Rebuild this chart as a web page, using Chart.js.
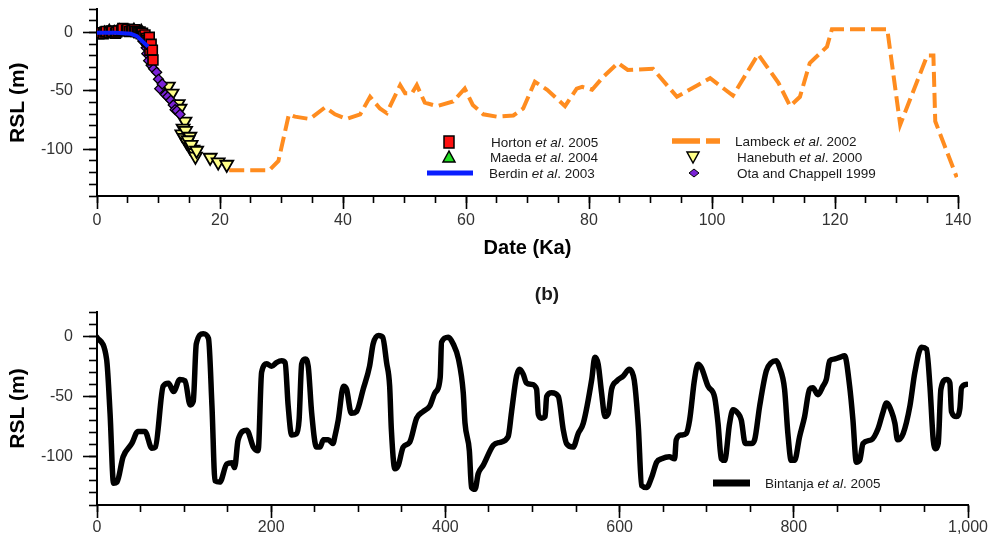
<!DOCTYPE html>
<html><head><meta charset="utf-8">
<script src="https://cdn.jsdelivr.net/npm/chart.js@4.4.1/dist/chart.umd.min.js"></script>
<style>
html,body{margin:0;padding:0;background:#fff;overflow:hidden;width:998px;height:538px;position:relative}
#ca{position:absolute;left:0;top:-30px}
#cb{position:absolute;left:0;top:270px}
</style></head><body>
<canvas id="ca" width="998" height="290"></canvas>
<canvas id="cb" width="998" height="268"></canvas>
<script>
// ---------- DATA ----------
// Panel (a): Date (ka) vs RSL (m)
const lambeckAge = [21.5,28,29.5,31.2,32.2,34.6,37.1,38.7,40.6,42.8,44.4,46,47.1,49.3,50.1,51.2,52,53.3,55.3,57.9,59.8,61.1,62.8,65,67.7,69.3,71.2,73.2,76.1,78,78.9,80.5,82.3,84.7,86.3,90.4,94.3,99.7,103.4,107.5,110.8,112.7,114.3,115.9,118.7,119.5,128.5,130.6,135,136,136.3,139.8];
const lambeckRSL = [-118,-118,-110,-70,-72,-74,-64,-70,-74,-70,-55,-65,-69,-45,-52,-52,-45,-60,-63,-59,-48,-62,-70,-72,-71,-65,-42,-49,-63,-48,-46.5,-49,-38,-26,-32,-31,-55,-39,-54,-18.5,-43,-63,-55,-26,-12,3,3,-79,-19.5,-19.5,-76,-124];

const hortonAge = [0.3,0.5,1,1.3,1.5,2,2.3,2.5,3,3.2,3.5,4,4.2,4.8,5,5.3,5.6,5.8,6.1,6.3,6.6,6.8,7,7.2,7.4,7.5,7.8,8,8.1,8.3,8.5,8.6,8.8,9,9.1];
const hortonRSL = [-1,0,-1,0.5,1,0,1.5,1,-0.5,0.5,1.5,2,3.5,2,3,1,1.5,2,2.5,1,1,0,0.5,-1,-0.5,-3,-2,-5,-6.6,-8,-4,-15,-10,-15,-23.5];

const maedaAge = [1.2,2,2.8,3.6,4.4,5.2,6,6.6,7.2,7.8];
const maedaRSL = [0.5,2,1,2.5,1,2,3,0.5,2,-3];

const berdinAge = [0,3,5.5,6.5,8.3];
const berdinRSL = [0,0,-1,-3,-12];

const otaAge = [7.6,8,8.1,8.4,8.8,9.2,9.7,10,10.2,10.6,11.1,11.5,12,12.4,12.7,13,13.5];
const otaRSL = [-8,-13,-18,-24,-28,-31,-34,-40,-48,-44,-53,-55,-58,-62,-66,-67,-70];

const hanebuthAge = [11.6,12.2,13.2,13.5,14.3,14,13.8,14.2,14.4,15.1,14.6,15.1,14.8,15.6,15.3,15.9,16,16.2,18.4,19.7,21.1];
const hanebuthRSL = [-46,-52,-61,-65,-76,-82,-87,-90,-84,-89,-94,-98,-92,-100,-96,-103,-106,-101,-107,-111,-113];

// Panel (b): Bintanja et al. 2005
const bintanjaAge = [0,11,15,19,23,30,40,47,55,63,67,76,82,88,95,101,107,110.5,114,122,128,132,135.5,141,149,155,158,162,172,179.5,185,189,195,200.5,206,212,216,219.5,223.5,229,232,235,239,242.5,246.5,252,256,260,265.5,271,273,277,283,286.5,292,298,305.6,313,317,323,328,332.5,336,338,342,346,351.5,359,367,374.5,382,388,394,395.6,403.3,409,415,420.5,422.5,427.5,430,434,437.7,443.5,455,462.7,472,476,481.7,485.3,489.4,493,499,504.7,506.7,510.5,514.4,516.3,522,529.6,535.4,539,546.7,552.5,558.3,568,571.6,575.4,579.3,583.2,587,590.8,596.6,604.3,611.2,615.8,617.7,621.5,625.3,631,636.8,642.6,648.3,657,663.2,665,670.8,676.5,680.4,686,690,693.8,701.5,709.2,713,716.8,720.6,726.3,730.2,735.9,739.7,744.3,751.2,755,760.8,768.4,774.2,779.9,783.7,789.4,793.2,797,800.9,806.6,812.4,818.1,821.9,827.7,833.5,837.3,841.2,846.8,852.6,858.3,864.1,867.9,871.8,875.6,879.5,889,896.8,902.6,906.4,912.2,916.1,919.1,925.6,933.3,939,946.7,952.4,956.3,960.1,962.8,965.8,968.9,975.3,979.2,981,986.8,990.7,992.5,998.3];
const bintanjaRSL = [-1,-19,-64,-122,-121,-100,-89,-79,-79,-93,-92,-41.5,-39,-46,-36,-37,-57,-54,-6.5,2,-2,-58,-120,-121,-106,-105,-109,-86,-78,-92,-95,-30,-23,-25,-22,-20.5,-22,-58,-82,-81,-69.5,-23,-19,-25,-64,-92,-92,-86,-86,-89,-83.5,-69.5,-41.5,-44,-64,-62.5,-44,-24.7,-6.5,0.5,-1,-22,-41.5,-78,-110,-107,-92,-88,-68,-62.5,-58,-47,-34.5,-5,-1,-6.5,-19,-47,-72,-95,-125.5,-127,-114,-107,-90.5,-88,-83.5,-62.5,-33,-27.5,-31.7,-38.7,-40,-44,-65,-68,-66.7,-50,-47,-50,-78,-89,-92,-80.7,-72.3,-36,-17.6,-23.3,-47,-66.7,-64,-44,-37.3,-33,-27.5,-33,-41.5,-75,-124,-125.5,-117,-104.5,-101.7,-100,-101.7,-86,-82,-80.7,-69.5,-36,-23.3,-26,-41.5,-51,-72.3,-101.7,-103,-72.3,-61,-64,-69.5,-89,-89,-86,-58,-29,-22,-20.5,-26,-44,-80.7,-103,-103,-83.5,-66.7,-44,-42.9,-48.5,-41.5,-36,-20.5,-19,-17.6,-16.3,-41.5,-69.5,-104.5,-103,-89,-86,-76.5,-62.5,-55.5,-62.5,-72.3,-86,-80.7,-58,-30,-9.2,-10.7,-41.5,-86,-93.3,-89,-44,-36,-38.7,-62.5,-66.7,-59.7,-42.9,-40];

// Tick labels
const topXTicks = [0,20,40,60,80,100,120,140];
const bottomXTicks = [0,200,400,600,800,1000];
const yTicks = [-100,-50,0];

// ---------- HELPERS ----------
Chart.defaults.font.family = "'Liberation Sans', Arial, sans-serif";
Chart.defaults.color = '#333';
const pts = (xs, ys) => xs.map((x, i) => ({x, y: ys[i]}));
const range = (a, b, s) => { const r = []; for (let v = a; v <= b + 1e-9; v += s) r.push({value: v}); return r; };

function makeScales(cfg) {
  return {
    x: {
      type: 'linear', position: 'bottom', min: cfg.xmin, max: cfg.xmax, weight: 1,
      afterBuildTicks: s => { s.ticks = cfg.xTicks.map(v => ({value: v})); },
      afterFit: s => { s.height = cfg.xHeight; },
      ticks: {autoSkip: false, maxRotation: 0, padding: cfg.xPad, color: '#333', font: {size: 16},
              callback: v => v.toLocaleString('en-US')},
      grid: {drawOnChartArea: false, drawTicks: true, tickLength: 13, tickColor: '#000', tickWidth: 1.6},
      border: {display: true, color: '#000', width: 2},
      title: cfg.xTitle ? {display: true, text: cfg.xTitle, color: '#000', font: {size: 20, weight: 'bold'}, padding: {top: 0, bottom: 0}} : {display: false}
    },
    x2: {
      type: 'linear', position: 'bottom', min: cfg.xmin, max: cfg.xmax, weight: 0,
      afterBuildTicks: s => { s.ticks = range(cfg.xmin, cfg.xmax, cfg.xMinor); },
      afterFit: s => { s.height = 0; },
      ticks: {display: false},
      grid: {drawOnChartArea: false, drawTicks: true, tickLength: 7, tickColor: '#000', tickWidth: 1.6},
      border: {display: false}
    },
    y: {
      type: 'linear', position: 'left', min: -140, max: 20, weight: 1,
      afterBuildTicks: s => { s.ticks = yTicks.map(v => ({value: v})); },
      afterFit: s => { s.width = 97; },
      ticks: {autoSkip: false, padding: 10, color: '#333', font: {size: 16}},
      grid: {drawOnChartArea: false, drawTicks: true, tickLength: 14, tickColor: '#000', tickWidth: 1.6},
      border: {display: true, color: '#000', width: 2},
      title: {display: true, text: 'RSL (m)', color: '#000', font: {size: 21, weight: 'bold'}, padding: {top: 6, bottom: 0}}
    },
    y2: {
      type: 'linear', position: 'left', min: -140, max: 20, weight: 0,
      afterBuildTicks: s => { s.ticks = range(-140, 20, 10); },
      afterFit: s => { s.width = 0; },
      ticks: {display: false},
      grid: {drawOnChartArea: false, drawTicks: true, tickLength: 8, tickColor: '#000', tickWidth: 1.6},
      border: {display: false}
    }
  };
}

// custom legend drawn with text parts (italic "et al.") + panel label
function drawSymbol(ctx, it) {
  ctx.save();
  ctx.lineWidth = 1.5; ctx.strokeStyle = '#000';
  const {sx: x, sy: y} = it;
  if (it.sym === 'square') {
    ctx.fillStyle = it.color; ctx.fillRect(x - 5, y - 6, 10, 12); ctx.strokeRect(x - 5, y - 6, 10, 12);
  } else if (it.sym === 'tri' || it.sym === 'itri') {
    const d = it.sym === 'tri' ? -1 : 1;
    ctx.beginPath(); ctx.moveTo(x, y + d * 6); ctx.lineTo(x - 6, y - d * 5); ctx.lineTo(x + 6, y - d * 5); ctx.closePath();
    ctx.fillStyle = it.color; ctx.fill(); ctx.stroke();
  } else if (it.sym === 'diamond') {
    ctx.beginPath(); ctx.moveTo(x, y - 4); ctx.lineTo(x + 5, y); ctx.lineTo(x, y + 4); ctx.lineTo(x - 5, y); ctx.closePath();
    ctx.fillStyle = it.color; ctx.fill(); ctx.lineWidth = 1; ctx.stroke();
  } else if (it.sym === 'line') {
    ctx.strokeStyle = it.color; ctx.lineWidth = it.lw; ctx.setLineDash(it.dash || []);
    ctx.beginPath(); ctx.moveTo(it.x0, y); ctx.lineTo(it.x1, y); ctx.stroke();
  }
  ctx.restore();
}
const textLegend = {
  id: 'textLegend',
  afterDraw(chart, args, opts) {
    const ctx = chart.ctx;
    if (opts.panel) {
      ctx.save();
      ctx.fillStyle = '#1a1a1a'; ctx.textAlign = 'center'; ctx.textBaseline = 'middle';
      ctx.font = "bold 19px 'Liberation Sans', Arial, sans-serif";
      ctx.fillText(opts.panel.text, opts.panel.x, opts.panel.y);
      ctx.restore();
    }
    (opts.items || []).forEach(it => {
      drawSymbol(ctx, it);
      let x = it.tx;
      ctx.save();
      ctx.fillStyle = '#1a1a1a'; ctx.textBaseline = 'middle'; ctx.textAlign = 'left';
      it.parts.forEach(p => {
        ctx.font = (p.i ? 'italic ' : '') + "13.5px 'Liberation Sans', Arial, sans-serif";
        ctx.fillText(p.t, x, it.sy + 1);
        x += ctx.measureText(p.t).width;
      });
      ctx.restore();
    });
  }
};
const etal = (a, b) => [{t: a + ' '}, {t: 'et al', i: true}, {t: '. ' + b}];

// ---------- CHART A ----------
const offA = 30; // canvas top is 30px above page top
new Chart(document.getElementById('ca'), {
  type: 'scatter',
  data: {datasets: [
    {label: 'Berdin et al. 2003', data: pts(berdinAge, berdinRSL), showLine: true, borderColor: '#0a1eff', borderWidth: 4, pointRadius: 0, xAxisID: 'x', yAxisID: 'y'},
    {label: 'Horton et al. 2005', data: pts(hortonAge, hortonRSL), pointStyle: 'rect', pointRadius: 7, backgroundColor: '#ff1010', borderColor: '#000', borderWidth: 1.6, xAxisID: 'x', yAxisID: 'y'},
    {label: 'Maeda et al. 2004', data: pts(maedaAge, maedaRSL), pointStyle: 'triangle', pointRadius: 6, backgroundColor: '#22dd22', borderColor: '#000', borderWidth: 1.5, xAxisID: 'x', yAxisID: 'y'},
    {label: 'Ota and Chappell 1999', data: pts(otaAge, otaRSL), pointStyle: 'rectRot', pointRadius: 5, backgroundColor: '#7a22d6', borderColor: '#000', borderWidth: 1.3, xAxisID: 'x', yAxisID: 'y'},
    {label: 'Hanebuth et al. 2000', data: pts(hanebuthAge, hanebuthRSL), pointStyle: 'triangle', rotation: 180, pointRadius: 7.5, backgroundColor: '#ffff88', borderColor: '#000', borderWidth: 1.8, xAxisID: 'x', yAxisID: 'y'},
    {label: 'Lambeck et al. 2002', data: pts(lambeckAge, lambeckRSL), showLine: true, borderColor: '#ff8c1f', borderWidth: 4, borderDash: [15, 6], pointRadius: 0, xAxisID: 'x', yAxisID: 'y'}
  ]},
  options: {
    responsive: false, animation: false, devicePixelRatio: 1,
    layout: {padding: {left: 0, right: 40, top: 39.3, bottom: 0}},
    scales: makeScales({xmin: 0, xmax: 140, xTicks: topXTicks, xMinor: 5, xHeight: 64, xPad: 2.4, xTitle: 'Date (Ka)'}),
    plugins: {
      legend: {display: false}, tooltip: {enabled: false}, title: {display: false},
      textLegend: {
        panel: {text: '(a)', x: 547, y: -10 + offA},
        items: [
        {sym: 'square', color: '#ff1010', sx: 449, sy: 142 + offA, tx: 491, parts: etal('Horton', '2005')},
        {sym: 'tri', color: '#22dd22', sx: 449, sy: 157 + offA, tx: 490, parts: etal('Maeda', '2004')},
        {sym: 'line', color: '#0a1eff', lw: 5, x0: 427, x1: 473, sy: 173 + offA, tx: 489, parts: etal('Berdin', '2003')},
        {sym: 'line', color: '#ff8c1f', lw: 5.5, dash: [28, 6], x0: 672, x1: 720, sy: 141 + offA, tx: 735, parts: etal('Lambeck', '2002')},
        {sym: 'itri', color: '#ffff88', sx: 693, sy: 157 + offA, tx: 737, parts: etal('Hanebuth', '2000')},
        {sym: 'diamond', color: '#7a22d6', sx: 694, sy: 173 + offA, tx: 737, parts: [{t: 'Ota and Chappell 1999'}]}
      ]}
    }
  },
  plugins: [textLegend]
});

// ---------- CHART B ----------
const offB = -270;
new Chart(document.getElementById('cb'), {
  type: 'scatter',
  data: {datasets: [
    {label: 'Bintanja et al. 2005', data: pts(bintanjaAge, bintanjaRSL), showLine: true, borderColor: '#000', borderWidth: 5.5, borderJoinStyle: 'round', borderCapStyle: 'round', cubicInterpolationMode: 'monotone', pointRadius: 0, xAxisID: 'x', yAxisID: 'y'}
  ]},
  options: {
    responsive: false, animation: false, devicePixelRatio: 1,
    layout: {padding: {left: 0, right: 30, top: 42, bottom: 0}},
    scales: makeScales({xmin: 0, xmax: 1000, xTicks: bottomXTicks, xMinor: 50, xHeight: 33, xPad: 0.4, xTitle: null}),
    plugins: {
      legend: {display: false}, tooltip: {enabled: false}, title: {display: false},
      textLegend: {
        panel: {text: '(b)', x: 547, y: 295 + offB},
        items: [
        {sym: 'line', color: '#000', lw: 7, x0: 713, x1: 750, sy: 483 + offB, tx: 765, parts: etal('Bintanja', '2005')}
      ]}
    }
  },
  plugins: [textLegend]
});
</script>
</body></html>
